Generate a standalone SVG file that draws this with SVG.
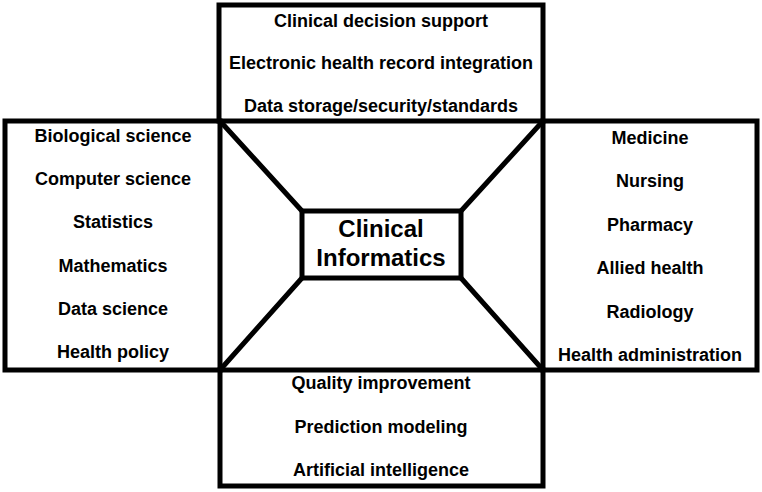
<svg xmlns="http://www.w3.org/2000/svg" width="762" height="492" viewBox="0 0 762 492">
<style>
.box{fill:none;stroke:#000;stroke-width:5;stroke-linejoin:miter}
.ln{stroke:#000;stroke-width:5;stroke-linecap:round}
text{font-family:"Liberation Sans",Arial,sans-serif;font-weight:bold;font-size:18px;fill:#000;text-anchor:middle}
.big{font-size:24px}
</style>
<rect width="762" height="492" fill="#fff"/>
<g id="connectors">
<line class="ln" x1="220" y1="121" x2="302" y2="211"/>
<line class="ln" x1="543" y1="121" x2="461" y2="211"/>
<line class="ln" x1="220" y1="370" x2="302" y2="278"/>
<line class="ln" x1="543" y1="370" x2="461" y2="278"/>
</g>
<g id="top">
<rect class="box" x="219" y="5" width="324" height="116"/>
<text x="381" y="27">Clinical decision support</text>
<text x="381" y="69">Electronic health record integration</text>
<text x="381" y="112">Data storage/security/standards</text>
</g>
<g id="left">
<rect class="box" x="5" y="121" width="215" height="249"/>
<text x="113" y="142">Biological science</text>
<text x="113" y="185">Computer science</text>
<text x="113" y="228">Statistics</text>
<text x="113" y="272">Mathematics</text>
<text x="113" y="315">Data science</text>
<text x="113" y="358">Health policy</text>
</g>
<g id="right">
<rect class="box" x="543" y="121" width="214" height="249"/>
<text x="650" y="144">Medicine</text>
<text x="650" y="187">Nursing</text>
<text x="650" y="231">Pharmacy</text>
<text x="650" y="274">Allied health</text>
<text x="650" y="318">Radiology</text>
<text x="650" y="361">Health administration</text>
</g>
<g id="bottom">
<rect class="box" x="220" y="370" width="323" height="116"/>
<text x="381" y="389">Quality improvement</text>
<text x="381" y="433">Prediction modeling</text>
<text x="381" y="476">Artificial intelligence</text>
</g>
<g id="center">
<rect class="box" x="302" y="211" width="159" height="67"/>
<text class="big" x="381" y="237">Clinical</text>
<text class="big" x="381" y="266">Informatics</text>
</g>
</svg>
